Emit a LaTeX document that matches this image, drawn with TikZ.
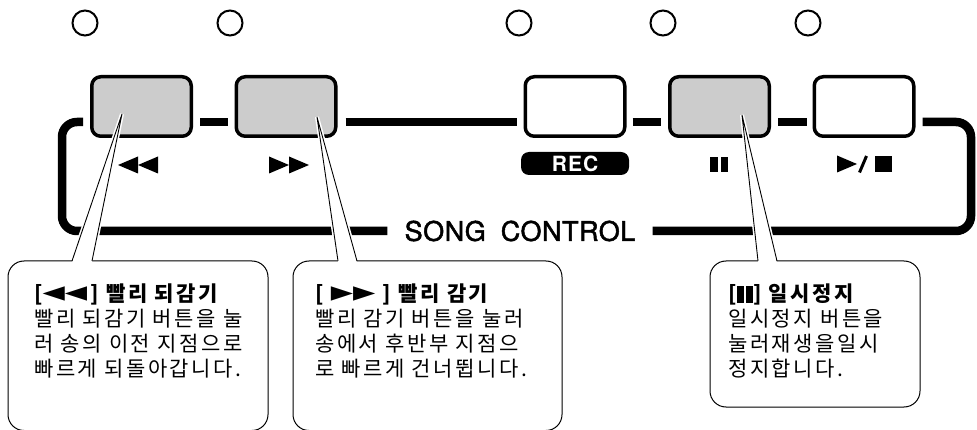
\documentclass[tikz,border=0pt]{standalone}
\usepackage{fontspec}
\usepackage{graphicx}
\newfontfamily\krfont[LetterSpace=12]{Noto Sans CJK KR}
\newfontfamily\symfont{DejaVu Sans}
\newfontfamily\helv[LetterSpace=2,FakeBold=1.8]{TeX Gyre Heros}
\newfontfamily\helvrec[LetterSpace=5]{TeX Gyre Heros}
\usetikzlibrary{calc}
\newcommand\lefttri{{\symfont\fontsize{29}{29}\selectfont ◄}}
\newcommand\righttri{{\symfont\fontsize{29}{29}\selectfont ►}}
\begin{document}
\begin{tikzpicture}[x=1pt,y=-1pt,
  led/.style={circle,draw,line width=2pt,minimum size=25pt,inner sep=0pt},
  btn/.style={draw,line width=3.5pt,rounded corners=9pt,minimum width=99.5pt,minimum height=59.5pt,inner sep=0pt},
  bar/.style={line width=8.5pt},
  frame/.style={line width=8.5pt,rounded corners=15pt},
  callout/.style={draw,line width=1pt,fill=white,rounded corners=16pt,inner sep=0pt,outer sep=0pt,anchor=north west},
  ctext/.style={anchor=north west,inner sep=0pt,align=left,font=\krfont\fontsize{21}{25}\selectfont},
  halo/.style={white,line width=4pt,shorten <=3pt,shorten >=3pt},
  pline/.style={line width=0.9pt},
]
\useasboundingbox (0,0) rectangle (977,430);
% LEDs
\node[led] (l1) at (85,23) {};
\node[led] (l2) at (230,23) {};
\node[led] (l3) at (519,23) {};
\node[led] (l4) at (663,23) {};
\node[led] (l5) at (808,23) {};
% buttons
\node[btn,fill=gray!40] (b1) at (141.5,106.5) {};
\node[btn,fill=gray!40] (b2) at (286,106.5) {};
\node[btn,fill=white] (b3) at (575,106.5) {};
\node[btn,fill=gray!40] (b4) at (719.5,106.5) {};
\node[btn,fill=white] (b5) at (864,106.5) {};
% connecting bars
\draw[bar] ([xshift=7pt,yshift=-15.5pt]b1.east) -- ([xshift=-7pt,yshift=-15.5pt]b2.west);
\draw[bar] ([xshift=8pt,yshift=-15.5pt]b2.east) -- ([xshift=-7pt,yshift=-15.5pt]b3.west);
\draw[bar] ([xshift=6pt,yshift=-15.5pt]b3.east) -- ([xshift=-7pt,yshift=-15.5pt]b4.west);
\draw[bar] ([xshift=7pt,yshift=-15.5pt]b4.east) -- ([xshift=-6pt,yshift=-15.5pt]b5.west);
% frame
\node[font=\helv\fontsize{27}{27}\selectfont,inner sep=0pt] (sc) at (520,231) {SONG\hspace{15pt}CONTROL};
\draw[frame] ([xshift=-7pt,yshift=-15.5pt]b1.west) -- (62,122) -- (62,231) -- ([xshift=-17pt]sc.west);
\draw[frame] ([xshift=7pt,yshift=-15.5pt]b5.east) -- (971,122) -- (971,231) -- ([xshift=17pt]sc.east);
% button symbols
\fill (118,165) -- (138,156.5) -- (138,173.5) -- cycle;
\fill (138,165) -- (158,156.5) -- (158,173.5) -- cycle;
\fill (269,156.5) -- (289,165) -- (269,173.5) -- cycle;
\fill (289,156.5) -- (309,165) -- (289,173.5) -- cycle;
\fill (709.5,157.5) rectangle (717.5,172.5);
\fill (720.5,157.5) rectangle (728,172.5);
\fill (837,155.5) -- (857,164) -- (837,172.5) -- cycle;
\draw[line width=3pt] (859.5,172.5) -- (866.5,156);
\fill (875,156) rectangle (892,172.5);
\node[fill=black,rounded corners=8pt,minimum width=108pt,minimum height=23pt,inner sep=0pt,text=white,font=\helvrec\bfseries\fontsize{21}{21}\selectfont] (rec) at (575,163.5) {REC};
% callout boxes
\node[callout,minimum width=260pt,minimum height=169.5pt] (c1) at (8,261) {};
\node[callout,minimum width=269pt,minimum height=169.5pt] (c2) at (293,261) {};
\node[callout,minimum width=210pt,minimum height=146pt] (c3) at (710,261) {};
% pointers
\coordinate (p1) at (122,114);
\coordinate (q1a) at (72,261);
\coordinate (q1b) at (92,261);
\coordinate (p2) at (317,117);
\coordinate (q2a) at (338,261);
\coordinate (q2b) at (357,261);
\coordinate (p3) at (742,115);
\coordinate (q3a) at (758,261);
\coordinate (q3b) at (777,261);
\foreach \i in {1,2,3}{
  \draw[halo] (q\i a) -- (p\i) -- (q\i b);
  \fill[white] (p\i) -- ($(q\i a)+(0,1.6)$) -- ($(q\i b)+(0,1.6)$) -- cycle;
  \draw[pline] (q\i a) -- (p\i) -- (q\i b);
}
% texts
\node[ctext] (t1) at (34,284) {{\bfseries[\lefttri\lefttri\,] 빨리 되감기}\\빨리 되감기 버튼을 눌\\러 송의 이전 지점으로\\빠르게 되돌아갑니다.};
\node[ctext] (t2) at (315,284) {{\bfseries[ \righttri\righttri\ ] 빨리 감기}\\빨리 감기 버튼을 눌러\\송에서 후반부 지점으\\로 빠르게 건너뜁니다.};
\node[ctext] (t3) at (728,284) {{\bfseries[\rule[-1pt]{7pt}{17pt}\hspace{2.5pt}\rule[-1pt]{7pt}{17pt}] 일시정지}\\일시정지 버튼을\\눌러재생을일시\\정지합니다.};
\end{tikzpicture}
\end{document}
